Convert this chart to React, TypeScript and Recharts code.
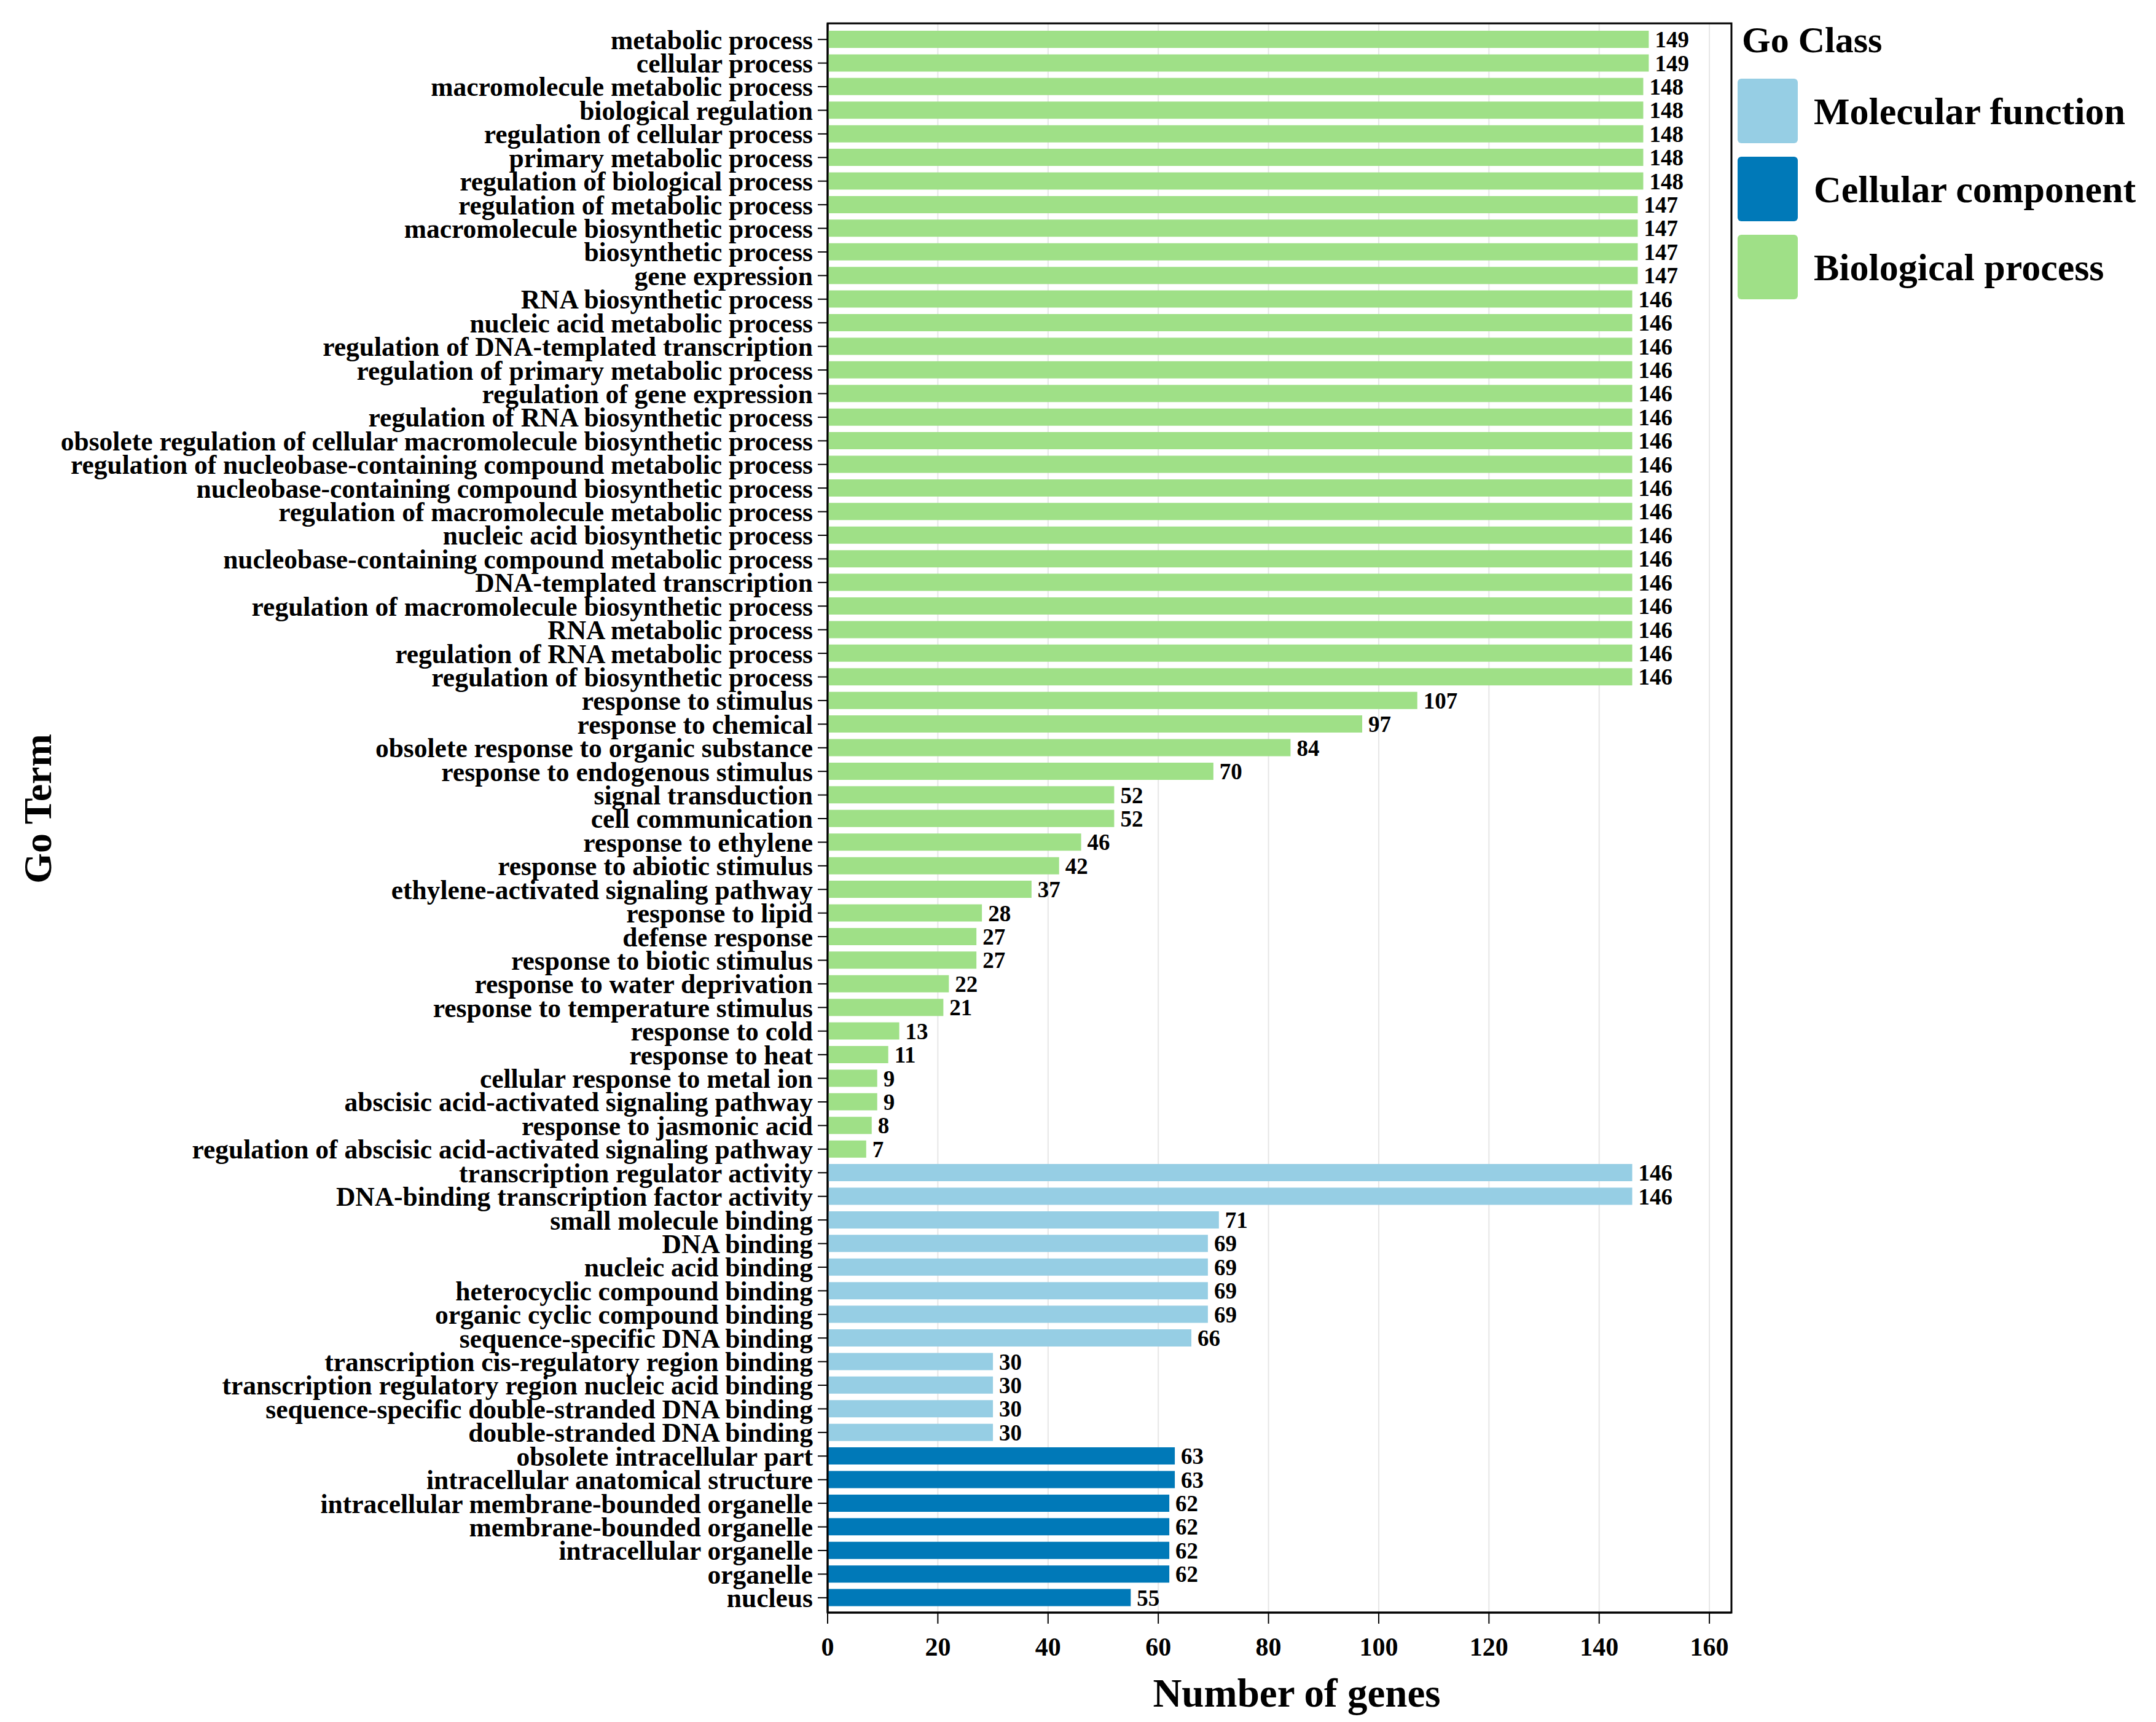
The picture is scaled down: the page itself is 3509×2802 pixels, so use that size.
import * as Recharts from 'recharts'
import { Bar, BarChart, CartesianGrid, Cell, Label, LabelList, Legend, XAxis, YAxis } from 'recharts'

const FONT = '"Liberation Serif", "Times New Roman", Times, serif'

const classNames = ['Molecular function', 'Cellular component', 'Biological process']
const classColors = ['#96CEE4', '#0079B8', '#9FE087']

const bpTerms = [
  'metabolic process',
  'cellular process',
  'macromolecule metabolic process',
  'biological regulation',
  'regulation of cellular process',
  'primary metabolic process',
  'regulation of biological process',
  'regulation of metabolic process',
  'macromolecule biosynthetic process',
  'biosynthetic process',
  'gene expression',
  'RNA biosynthetic process',
  'nucleic acid metabolic process',
  'regulation of DNA-templated transcription',
  'regulation of primary metabolic process',
  'regulation of gene expression',
  'regulation of RNA biosynthetic process',
  'obsolete regulation of cellular macromolecule biosynthetic process',
  'regulation of nucleobase-containing compound metabolic process',
  'nucleobase-containing compound biosynthetic process',
  'regulation of macromolecule metabolic process',
  'nucleic acid biosynthetic process',
  'nucleobase-containing compound metabolic process',
  'DNA-templated transcription',
  'regulation of macromolecule biosynthetic process',
  'RNA metabolic process',
  'regulation of RNA metabolic process',
  'regulation of biosynthetic process',
  'response to stimulus',
  'response to chemical',
  'obsolete response to organic substance',
  'response to endogenous stimulus',
  'signal transduction',
  'cell communication',
  'response to ethylene',
  'response to abiotic stimulus',
  'ethylene-activated signaling pathway',
  'response to lipid',
  'defense response',
  'response to biotic stimulus',
  'response to water deprivation',
  'response to temperature stimulus',
  'response to cold',
  'response to heat',
  'cellular response to metal ion',
  'abscisic acid-activated signaling pathway',
  'response to jasmonic acid',
  'regulation of abscisic acid-activated signaling pathway',
]
const bpCounts = [
  149, 149, 148, 148, 148, 148, 148, 147, 147, 147, 147, 146, 146, 146, 146, 146, 146, 146, 146, 146,
  146, 146, 146, 146, 146, 146, 146, 146, 107, 97, 84, 70, 52, 52, 46, 42, 37, 28, 27, 27, 22, 21, 13,
  11, 9, 9, 8, 7,
]

const mfTerms = [
  'transcription regulator activity',
  'DNA-binding transcription factor activity',
  'small molecule binding',
  'DNA binding',
  'nucleic acid binding',
  'heterocyclic compound binding',
  'organic cyclic compound binding',
  'sequence-specific DNA binding',
  'transcription cis-regulatory region binding',
  'transcription regulatory region nucleic acid binding',
  'sequence-specific double-stranded DNA binding',
  'double-stranded DNA binding',
]
const mfCounts = [146, 146, 71, 69, 69, 69, 69, 66, 30, 30, 30, 30]

const ccTerms = [
  'obsolete intracellular part',
  'intracellular anatomical structure',
  'intracellular membrane-bounded organelle',
  'membrane-bounded organelle',
  'intracellular organelle',
  'organelle',
  'nucleus',
]
const ccCounts = [63, 63, 62, 62, 62, 62, 55]

const xTicks = [0, 20, 40, 60, 80, 100, 120, 140, 160]

const rows = [
  ...bpTerms.map((term, i) => ({ term, count: bpCounts[i], cls: 2 })),
  ...mfTerms.map((term, i) => ({ term, count: mfCounts[i], cls: 0 })),
  ...ccTerms.map((term, i) => ({ term, count: ccCounts[i], cls: 1 })),
]

const boldText = { fontFamily: FONT, fontWeight: 700, fill: '#000' }

// recharts 3 hook, looked up loosely so a missing export doesn't break the bundle
const usePlotArea: () => any = (Recharts as any).usePlotArea ?? (() => null)

function PanelBorder() {
  const area = usePlotArea()
  if (!area) return null
  return <rect x={area.x} y={area.y} width={area.width} height={area.height} fill="none" stroke="#000" strokeWidth={3} />
}

function GoClassLegend() {
  return (
    <div style={{ fontFamily: FONT, fontWeight: 700, color: '#000' }}>
      <div style={{ height: 128, fontSize: 60, lineHeight: 1, paddingTop: 35, paddingLeft: 7, boxSizing: 'border-box' }}>
        Go Class
      </div>
      {classNames.map((name, i) => (
        <div key={name} style={{ display: 'flex', alignItems: 'center', height: 105, marginBottom: 22 }}>
          <div style={{ width: 98, height: 105, background: classColors[i], borderRadius: 6, flexShrink: 0 }} />
          <span style={{ fontSize: 62, marginLeft: 26, lineHeight: 1, whiteSpace: 'nowrap' }}>{name}</span>
        </div>
      ))}
    </div>
  )
}

function GoTermLabel({ viewBox }: any) {
  const cy = viewBox.y + viewBox.height / 2 - 15
  return (
    <text transform={`translate(83, ${cy}) rotate(-90)`} textAnchor="middle" fontSize={64} {...boldText}>
      Go Term
    </text>
  )
}

export default function App() {
  return (
    <div style={{ position: 'absolute', left: 0, top: 0, width: 3509, height: 2802, background: '#fff' }}>
      <BarChart
        width={3509}
        height={2802}
        data={rows}
        layout="vertical"
        margin={{ top: 38, right: 691, bottom: 0, left: 0 }}
        barSize={28}
      >
        <CartesianGrid horizontal={false} stroke="#E6E6E6" strokeWidth={2} />
        <XAxis
          type="number"
          dataKey="count"
          domain={[0, 164]}
          ticks={xTicks}
          allowDataOverflow
          height={178}
          tickSize={18}
          tickMargin={22}
          axisLine={{ stroke: '#000', strokeWidth: 3 }}
          tickLine={{ stroke: '#000', strokeWidth: 2 }}
          tick={{ fontSize: 42, ...boldText }}
        >
          <Label value="Number of genes" position="insideBottom" offset={25} dx={28} fontSize={65} {...boldText} />
        </XAxis>
        <YAxis
          type="category"
          dataKey="term"
          width={1347}
          interval={0}
          padding={{ top: 7, bottom: 5 }}
          tickSize={16}
          tickMargin={8}
          axisLine={{ stroke: '#000', strokeWidth: 3 }}
          tickLine={{ stroke: '#000', strokeWidth: 2 }}
          tick={{ fontSize: 43.5, ...boldText }}
        >
          <Label content={<GoTermLabel />} />
        </YAxis>
        <Bar dataKey="count" isAnimationActive={false}>
          {rows.map((r) => (
            <Cell key={r.term} fill={classColors[r.cls]} />
          ))}
          <LabelList dataKey="count" position="right" offset={10} fontSize={37} {...boldText} />
        </Bar>
        <PanelBorder />
        <Legend
          layout="vertical"
          align="center"
          verticalAlign="middle"
          content={<GoClassLegend />}
          wrapperStyle={{ left: 2828, top: 0, width: 680 }}
        />
      </BarChart>
    </div>
  )
}
